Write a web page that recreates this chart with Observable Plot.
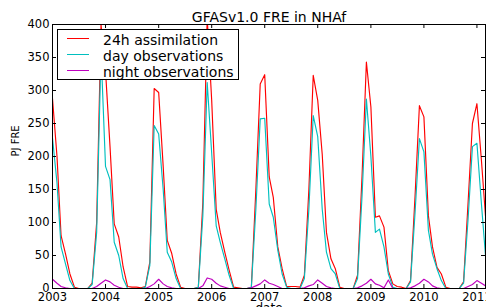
<!DOCTYPE html>
<html><head><meta charset="utf-8">
<script src="https://cdn.jsdelivr.net/npm/d3@7"></script>
<script src="https://cdn.jsdelivr.net/npm/@observablehq/plot@0.6"></script>
<style>
body{margin:0;background:#fff;font-family:"DejaVu Sans",sans-serif;}
#wrap{position:relative;width:486px;height:307px;overflow:hidden;background:#fff;}
#legend{position:absolute;left:57px;top:29px;width:182px;height:51px;border:1px solid #000;background:#fff;box-sizing:border-box;z-index:2;}
.sw{position:absolute;left:9px;width:22px;height:1.3px;}
.lt{position:absolute;left:45px;font-size:14px;line-height:16px;color:#000;white-space:nowrap;}
</style></head><body>
<div id="wrap"></div>
<script>
// ---- data (monthly, Jan 2003 .. Mar 2011), PJ FRE ----
const startYear = 2003;
const assim = [
  288, 200, 80, 52, 22, 2, 0, 0, 0, 8, 100, 400,
  330, 215, 98, 78, 33, 3, 2, 2, 1, 3, 40, 303,
  297, 185, 73, 53, 22, 2, 0, 0, 0, 2, 130, 410,
  285, 120, 85, 55, 28, 2, 1, 0, 0, 2, 150, 310,
  324, 169, 138, 63, 30, 3, 3, 3, 2, 20, 150, 323,
  285, 203, 85, 45, 30, 2, 0, 0, 0, 20, 170, 343,
  275, 108, 110, 93, 27, 7, 3, 2, 0, 12, 140, 277,
  260, 110, 63, 32, 22, 2, 0, 0, 0, 10, 130, 250,
  280, 194, 110
];
const dayObs = [
  228, 160, 63, 37, 12, 0, 0, 0, 0, 6, 85, 360,
  185, 165, 70, 50, 15, 0, 0, 0, 0, 2, 35, 247,
  234, 150, 55, 40, 15, 0, 0, 0, 0, 2, 110, 312,
  205, 95, 70, 45, 20, 0, 0, 0, 0, 2, 120, 257,
  258, 128, 108, 58, 22, 2, 0, 0, 0, 15, 120, 262,
  230, 120, 55, 30, 22, 0, 0, 0, 0, 15, 140, 287,
  200, 85, 90, 63, 22, 2, 0, 0, 0, 10, 115, 227,
  207, 88, 52, 30, 12, 0, 0, 0, 0, 8, 105, 215,
  220, 128, 50
];
const nightObs = [
  14, 8, 3, 1, 0, 0, 0, 0, 0, 0, 3, 8,
  13, 10, 5, 2, 0, 0, 0, 0, 0, 0, 3, 7,
  14, 7, 3, 1, 0, 0, 0, 0, 0, 0, 4, 16,
  14, 8, 4, 2, 0, 0, 0, 0, 0, 1, 4, 7,
  13, 8, 6, 3, 0, 0, 0, 0, 0, 1, 4, 6,
  13, 8, 3, 1, 0, 0, 0, 0, 0, 1, 4, 8,
  14, 7, 5, 1, 13, 0, 0, 0, 0, 1, 4, 8,
  14, 10, 4, 1, 0, 0, 0, 0, 0, 0, 3, 6,
  12, 8, 4
];
const seriesNames = ["24h assimilation", "day observations", "night observations"];
const seriesColors = ["#ff0000", "#00bfbf", "#bf00bf"];
const yearTicks = [2003, 2004, 2005, 2006, 2007, 2008, 2009, 2010, 2011];
const yTicks = [0, 50, 100, 150, 200, 250, 300, 350, 400];
const titleText = "GFASv1.0 FRE in NHAf";
const yLabel = "PJ FRE";
const xLabel = "date";

// ---- build ----
const dates = assim.map((_, i) => new Date(Date.UTC(startYear, i, 1)));
const yearDates = yearTicks.map(y => new Date(Date.UTC(y, 0, 1)));
const rows = [];
[assim, dayObs, nightObs].forEach((arr, k) =>
  arr.forEach((v, i) => rows.push({date: dates[i], value: v, series: seriesNames[k]})));

const W = 486, H = 307, mL = 52, mR = 1, mT = 24, mB = 19;
const pw = W - mL - mR, ph = H - mT - mB;

const chart = Plot.plot({
  width: W, height: H,
  marginLeft: mL, marginRight: mR, marginTop: mT, marginBottom: mB,
  style: {fontFamily: "DejaVu Sans", fontSize: "11.5px", background: "white", color: "black", overflow: "visible"},
  x: {type: "utc", domain: [dates[0], dates[dates.length - 1]], ticks: yearDates, tickFormat: "%Y", tickSize: 0, tickPadding: 4, label: null},
  y: {domain: [0, 400], ticks: yTicks, tickSize: 0, tickPadding: 3, label: null},
  color: {domain: seriesNames, range: seriesColors},
  marks: [
    Plot.line(rows, {x: "date", y: "value", z: "series", stroke: "series", strokeWidth: 1.15, clip: true}),
    Plot.frame({stroke: "black", strokeWidth: 1}),
    Plot.tickY(yTicks, {y: d => d, insetRight: pw - 4, stroke: "black"}),
    Plot.tickY(yTicks, {y: d => d, insetLeft: pw - 4, stroke: "black"}),
    Plot.tickX(yearDates, {x: d => d, insetBottom: ph - 4, stroke: "black"}),
    Plot.tickX(yearDates, {x: d => d, insetTop: ph - 4, stroke: "black"}),
    Plot.text([titleText], {frameAnchor: "top", lineAnchor: "bottom", dy: -3, fontSize: 14, fill: "black"}),
    Plot.text([yLabel], {frameAnchor: "left", rotate: -90, dx: -37, fontSize: 10, fill: "black"}),
    Plot.text([xLabel], {frameAnchor: "bottom", lineAnchor: "top", dy: 15, fontSize: 12, fill: "black"})
  ]
});
const wrap = document.getElementById("wrap");
wrap.appendChild(chart);

// legend (drawn over the lines, like the reference)
const lg = document.createElement("div");
lg.id = "legend";
seriesNames.forEach((name, i) => {
  const sw = document.createElement("div");
  sw.className = "sw";
  sw.style.top = (8 + 16 * i) + "px";
  sw.style.background = seriesColors[i];
  lg.appendChild(sw);
  const t = document.createElement("div");
  t.className = "lt";
  t.style.top = (1.5 + 16 * i) + "px";
  t.textContent = name;
  lg.appendChild(t);
});
wrap.appendChild(lg);
</script>
</body></html>
